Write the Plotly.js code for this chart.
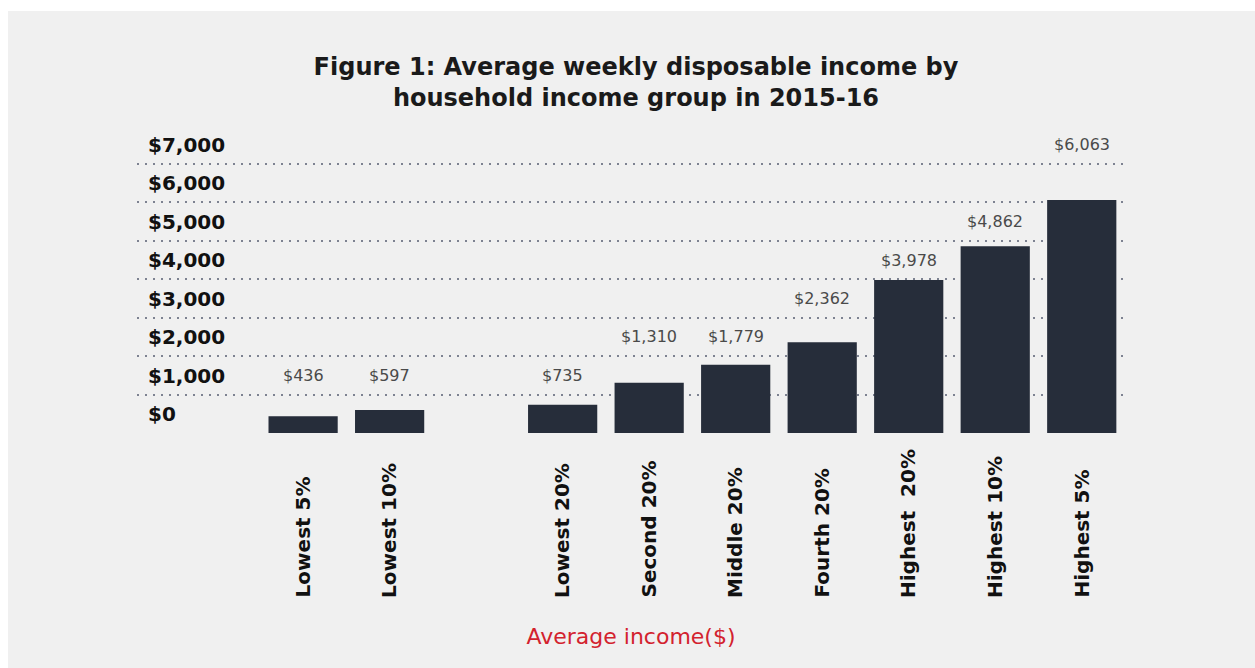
<!DOCTYPE html>
<html>
<head>
<meta charset="utf-8">
<script src="https://cdn.plot.ly/plotly-3.0.1.min.js"></script>
<style>
  html, body { margin: 0; padding: 0; background: #ffffff; width: 1255px; height: 668px; overflow: hidden; }
  #chart { position: absolute; left: 8px; top: 11px; width: 1247px; height: 657px; }
</style>
</head>
<body>
<div id="chart"></div>
<script>
// ---- data ----
const categories = ["Lowest 5%", "Lowest 10%", "Lowest 20%", "Second 20%", "Middle 20%", "Fourth 20%", "Highest  20%", "Highest 10%", "Highest 5%"];
const axisOrder = ["Lowest 5%", "Lowest 10%", "gap", "Lowest 20%", "Second 20%", "Middle 20%", "Fourth 20%", "Highest  20%", "Highest 10%", "Highest 5%"];
const incomes = [436, 597, 735, 1310, 1779, 2362, 3978, 4862, 6063];
const valueLabels = ["$436", "$597", "$735", "$1,310", "$1,779", "$2,362", "$3,978", "$4,862", "$6,063"];
const tickValues = [0, 1000, 2000, 3000, 4000, 5000, 6000, 7000];
const tickLabels = ["$0", "$1,000", "$2,000", "$3,000", "$4,000", "$5,000", "$6,000", "$7,000"];
const titleText = "Figure 1: Average weekly disposable income by<br>household income group in 2015-16";
const xTitle = "Average income($)";

const FONT = "DejaVu Sans, Arial, sans-serif";
const GRID_STEP = 1000;

const trace = {
  type: "bar",
  x: categories,
  y: incomes,
  marker: { color: "#262d3a" },
  hoverinfo: "x+y"
};

const annotations = [];
categories.forEach((c, i) => {
  // value label sits in the middle of the grid band above the one containing the bar top
  const labelY = (Math.floor(incomes[i] / GRID_STEP) + 1.5) * GRID_STEP;
  annotations.push({
    x: c, y: labelY, xref: "x", yref: "y",
    text: valueLabels[i], showarrow: false,
    yanchor: "middle",
    font: { family: FONT, size: 16, color: "#4a4a4a" }
  });
  annotations.push({
    x: c, y: -0.62 * 269 / 291, xref: "x", yref: "paper",
    text: "<b>" + c.replace(/ /g, "&nbsp;") + "</b>", showarrow: false,
    textangle: -90, yanchor: "bottom", xanchor: "center",
    font: { family: FONT, size: 20, color: "#111111" }
  });
});

const layout = {
  width: 1247, height: 657,
  paper_bgcolor: "#f0f0f0",
  plot_bgcolor: "rgba(0,0,0,0)",
  margin: { l: 129, r: 130, t: 131, b: 235, pad: 0 },
  showlegend: false,
  bargap: 0.2,
  title: {
    text: titleText,
    x: 0.5036, xanchor: "center",
    y: 1 - 64 / 657, yanchor: "middle", yref: "container",
    font: { family: FONT, size: 24, color: "#1a1a1a", weight: "bold" }
  },
  xaxis: {
    type: "category",
    categoryorder: "array",
    categoryarray: axisOrder,
    range: [-1.92, 9.5],
    showticklabels: false,
    ticks: "",
    showgrid: false,
    zeroline: false,
    showline: false,
    title: {
      text: xTitle, standoff: 195,
      font: { family: FONT, size: 22, color: "#d3222e" }
    }
  },
  yaxis: {
    range: [0, 7572],
    tickvals: tickValues,
    ticktext: tickLabels,
    ticklabelposition: "inside top",
    ticklabeloverflow: "allow",
    ticklabelstandoff: 8,
    ticklabelshift: -5,
    tickfont: { family: FONT, size: 20, color: "#111111", weight: "bold" },
    showgrid: true,
    gridcolor: "#7d8291",
    gridwidth: 2,
    griddash: "2px,6px",
    zeroline: true,
    zerolinecolor: "#f0f0f0",
    zerolinewidth: 2,
    showline: false,
    ticks: ""
  },
  annotations: annotations
};

Plotly.newPlot("chart", [trace], layout, { displayModeBar: false, staticPlot: true });
</script>
</body>
</html>
